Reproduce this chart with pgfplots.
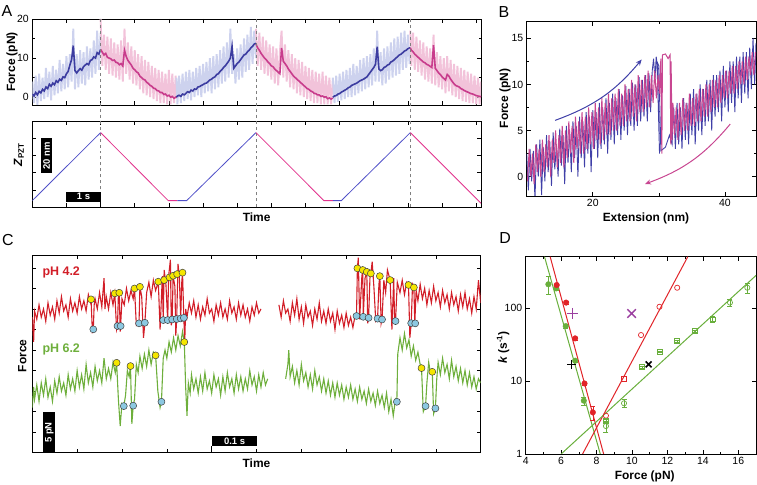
\documentclass[border=0pt]{standalone}
\usepackage{pgfplots}
\pgfplotsset{compat=1.18}
\usepackage{pgfplotstable}
\usepackage{fontspec}
\setmainfont{Liberation Sans}
\usetikzlibrary{arrows.meta}

\definecolor{dblue}{RGB}{60,60,160}
\definecolor{lblue}{RGB}{205,210,238}
\definecolor{dmag}{RGB}{200,60,140}
\definecolor{lmag}{RGB}{242,195,218}
\definecolor{zblue}{RGB}{80,80,200}
\definecolor{zmag}{RGB}{225,50,140}
\definecolor{bblue}{RGB}{64,64,168}
\definecolor{bmag}{RGB}{200,70,145}
\definecolor{cred}{RGB}{210,30,40}
\definecolor{cgreen}{RGB}{110,175,60}
\definecolor{cyel}{RGB}{245,230,0}
\definecolor{ccyan}{RGB}{140,200,225}
\definecolor{dred}{RGB}{225,35,40}
\definecolor{dgreen}{RGB}{105,175,60}
\definecolor{dpurp}{RGB}{155,63,160}

\pgfplotsset{
 base/.style={scale only axis, anchor=south west,
  axis line style={line width=0.8bp}, tick style={black, line width=0.6bp},
  major tick length=4bp, minor tick length=2.5bp, tick align=inside,
  /pgf/number format/assume math mode=true,
  ticklabel style={font=\fontsize{10.5}{12}\selectfont},
  label style={font=\fontsize{12}{14}\selectfont\bfseries}},
}

\begin{document}

% ---------------- Panel A force data: t  light  dark ----------------
\pgfplotstableread{
t L D
0.00 4.0 0.8
0.05 -1.5 0.3
0.10 5.5 1.2
0.15 -2.0 0.6
0.20 6.0 1.5
0.25 -1.0 1.1
0.30 5.0 2.0
0.35 -0.5 1.6
0.40 7.5 2.6
0.45 0.0 2.2
0.50 6.5 3.3
0.55 -0.8 2.8
0.60 8.0 3.6
0.65 0.5 3.2
0.70 7.0 4.2
0.75 1.0 3.8
0.80 9.5 4.6
0.85 1.5 4.3
0.90 8.5 5.2
0.95 2.0 5.0
1.00 10.5 6.0
1.05 2.5 6.6
1.10 11.0 8.2
1.15 4.0 9.6
1.20 17.5 13.2
1.25 2.0 6.8
1.30 11.0 6.2
1.35 2.5 6.8
1.40 12.0 7.3
1.45 3.5 6.9
1.50 11.5 7.8
1.55 3.0 8.2
1.60 13.0 8.6
1.65 4.5 8.3
1.70 12.5 9.4
1.75 5.0 9.6
1.80 14.5 10.3
1.85 6.0 10.0
1.90 17.0 11.4
1.95 7.0 11.0
2.00 16.5 12.2
}\segA
\pgfplotstableread{
t L D
2.00 20.0 12.2
2.05 8.0 11.5
2.10 16.0 10.8
2.15 7.0 11.2
2.20 15.5 10.2
2.25 6.0 10.0
2.30 15.0 9.8
2.35 5.5 9.4
2.40 14.0 9.5
2.45 5.0 8.9
2.50 13.5 8.8
2.55 4.5 8.3
2.60 14.5 8.6
2.65 4.0 8.0
2.70 17.5 12.0
2.75 6.0 10.4
2.80 14.0 9.4
2.85 4.5 8.8
2.90 13.0 8.2
2.95 3.5 7.4
3.00 12.0 7.0
3.05 3.0 6.5
3.10 11.0 6.2
3.15 2.0 5.4
3.20 10.5 5.0
3.25 1.0 4.6
3.30 9.5 4.4
3.35 0.5 3.8
3.40 9.0 3.5
3.45 0.0 3.0
3.50 8.0 2.8
3.55 -0.5 2.3
3.60 7.5 2.2
3.65 -1.0 1.7
3.70 7.0 1.6
3.75 -1.5 1.2
3.80 6.5 1.2
3.85 -1.5 0.7
3.90 6.0 0.8
3.95 -1.8 0.3
4.00 7.0 0.5
4.05 -1.8 0.0
4.10 6.0 0.2
4.15 -1.5 -0.3
4.20 5.5 0.0
4.22 0.0 -0.2
}\segB
\pgfplotstableread{
t L D
4.22 5.0 0.0
4.25 -1.8 0.3
4.30 5.5 0.5
4.35 -1.5 0.2
4.40 6.0 0.8
4.45 -1.0 0.6
4.50 6.5 1.0
4.55 -0.5 1.4
4.60 7.0 1.2
4.65 -0.8 1.8
4.70 6.5 1.6
4.75 0.0 2.1
4.80 7.5 2.0
4.85 0.5 2.6
4.90 8.0 2.7
4.95 0.0 3.0
5.00 8.5 3.2
5.05 1.0 3.5
5.10 9.0 3.6
5.15 1.5 4.0
5.20 10.0 4.4
5.25 1.0 4.6
5.30 10.5 5.0
5.35 2.0 5.2
5.40 11.0 5.8
5.45 2.5 6.0
5.50 12.0 6.6
5.55 3.5 7.0
5.60 13.0 7.6
5.65 4.0 8.0
5.70 14.0 8.6
5.75 5.0 9.2
5.80 17.5 10.0
5.85 6.0 13.0
5.90 11.0 7.4
5.95 3.5 8.0
6.00 12.5 8.6
6.05 4.5 9.0
6.10 13.5 9.6
6.15 5.0 10.2
6.20 15.0 10.8
6.25 6.5 11.0
6.30 16.0 11.6
6.35 7.0 12.0
6.40 18.0 12.6
6.45 8.5 13.0
6.50 17.0 13.6
6.55 10.0 13.8
}\segC
\pgfplotstableread{
t L D
6.55 17.5 13.6
6.60 8.0 12.6
6.65 16.5 12.0
6.70 7.0 11.2
6.75 15.5 10.6
6.80 6.0 10.0
6.85 14.5 9.6
6.90 5.5 9.0
6.95 13.5 8.6
7.00 4.5 8.0
7.05 13.0 7.8
7.10 3.5 7.2
7.15 12.5 6.8
7.20 3.0 6.4
7.25 11.5 6.0
7.30 17.0 12.6
7.35 5.0 9.2
7.40 13.5 8.6
7.45 4.0 8.0
7.50 12.0 7.2
7.55 2.5 6.6
7.60 11.0 6.0
7.65 2.0 5.4
7.70 10.0 5.0
7.75 1.0 4.6
7.80 9.5 4.2
7.85 0.5 3.8
7.90 9.0 3.4
7.95 0.0 3.0
8.00 8.0 2.6
8.05 -0.5 2.2
8.10 7.5 2.0
8.15 -1.0 1.6
8.20 7.0 1.4
8.25 -1.5 1.0
8.30 6.5 0.9
8.35 -1.5 0.6
8.40 6.0 0.6
8.45 -1.8 0.2
8.50 6.5 0.3
8.55 -1.8 0.0
8.60 5.5 0.1
8.65 -1.8 -0.4
8.70 5.0 -0.2
8.75 -1.8 -0.5
8.80 4.5 -0.2
}\segD
\pgfplotstableread{
t L D
8.80 5.0 0.0
8.85 -1.5 0.3
8.90 5.5 0.4
8.95 -1.2 0.8
9.00 6.0 0.9
9.05 -0.8 1.3
9.10 6.5 1.5
9.15 -0.5 1.8
9.20 7.0 2.0
9.25 0.0 2.4
9.30 7.5 2.6
9.35 0.0 3.0
9.40 8.5 3.2
9.45 0.5 3.4
9.50 8.0 3.6
9.55 1.0 3.9
9.60 9.5 4.2
9.65 1.5 4.4
9.70 10.0 4.6
9.75 2.0 4.9
9.80 10.5 5.2
9.85 2.5 5.8
9.90 11.0 6.4
9.95 3.0 7.0
10.00 12.5 7.6
10.05 4.0 8.4
10.10 17.0 12.9
10.15 4.0 7.2
10.20 11.5 6.8
10.25 3.0 7.0
10.30 12.5 7.6
10.35 3.5 7.8
10.40 13.0 8.2
10.45 4.5 8.4
10.50 14.0 9.0
10.55 5.0 9.2
10.60 15.0 9.6
10.65 5.5 10.0
10.70 15.5 10.4
10.75 6.0 10.8
10.80 16.5 11.0
10.85 7.0 11.4
10.90 17.0 11.8
10.95 7.5 12.0
11.00 16.0 12.4
11.05 8.5 12.6
11.07 12.0 12.6
}\segE
\pgfplotstableread{
t L D
11.07 17.0 12.6
11.10 8.0 12.0
11.15 16.5 11.6
11.20 7.0 11.0
11.25 15.5 10.6
11.30 6.5 10.2
11.35 14.5 9.8
11.40 5.5 9.4
11.45 14.0 9.0
11.50 4.5 8.8
11.55 13.0 8.4
11.60 4.0 8.2
11.65 12.5 7.9
11.70 3.5 7.6
11.75 16.0 13.3
11.80 3.0 7.4
11.85 11.5 6.8
11.90 2.5 6.2
11.95 10.5 5.8
12.00 2.0 5.2
12.05 10.0 4.8
12.10 1.0 4.4
12.15 10.5 5.8
12.20 1.5 5.4
12.25 9.5 4.6
12.30 0.5 4.0
12.35 8.5 3.4
12.40 0.0 3.0
12.45 8.0 2.8
12.50 -0.5 2.6
12.55 7.5 2.2
12.60 -1.0 2.0
12.65 7.0 1.7
12.70 -1.2 1.5
12.75 6.5 1.3
12.80 -1.5 1.1
12.85 6.0 0.9
12.90 -1.5 0.8
12.95 5.5 0.6
13.00 -1.8 0.4
13.05 5.0 0.3
13.10 -1.8 0.2
13.14 4.0 0.1
}\segF

\begin{tikzpicture}
\path[use as bounding box] (0,0) rectangle (757bp,485bp);

% ================= Panel A (top) =================
\begin{axis}[base, at={(32.3bp,380bp)}, width=448.7bp, height=86bp,
  xmin=0, xmax=13.14, ymin=-2, ymax=20,
  xtick={1,...,13}, xticklabels={},
  ytick={0,10,20}, minor ytick={5,15},
  ylabel={Force (pN)},
  ylabel style={at={(axis description cs:-0.045,0.5)}, anchor=center},
  clip mode=individual]
\addplot[lblue, line width=1.9bp] table[x=t,y=L] {\segA};
\addplot[lmag, line width=1.9bp] table[x=t,y=L] {\segB};
\addplot[lblue, line width=1.9bp] table[x=t,y=L] {\segC};
\addplot[lmag, line width=1.9bp] table[x=t,y=L] {\segD};
\addplot[lblue, line width=1.9bp] table[x=t,y=L] {\segE};
\addplot[lmag, line width=1.9bp] table[x=t,y=L] {\segF};
\addplot[dblue, line width=1.6bp] table[x=t,y=D] {\segA};
\addplot[dmag, line width=1.6bp] table[x=t,y=D] {\segB};
\addplot[dblue, line width=1.6bp] table[x=t,y=D] {\segC};
\addplot[dmag, line width=1.6bp] table[x=t,y=D] {\segD};
\addplot[dblue, line width=1.6bp] table[x=t,y=D] {\segE};
\addplot[dmag, line width=1.6bp] table[x=t,y=D] {\segF};
\draw[gray, dashed, line width=0.5bp] (axis cs:2.0,20) -- (axis cs:2.0,-6.3);
\draw[gray, dashed, line width=0.5bp] (axis cs:6.55,20) -- (axis cs:6.55,-6.3);
\draw[gray, dashed, line width=0.5bp] (axis cs:11.07,20) -- (axis cs:11.07,-6.3);
\end{axis}

% ================= Panel A (bottom) =================
\begin{axis}[base, at={(32.3bp,277.7bp)}, width=448.7bp, height=86.3bp,
  xmin=0, xmax=13.14, ymin=0, ymax=49.8,
  xtick={1,...,13}, xticklabels={},
  ytick={10,20,30,40}, yticklabels={},
  xlabel={Time},
  xlabel style={at={(axis description cs:0.5,-0.11)}, anchor=center},
  ylabel={\textit{Z}\textsubscript{PZT}},
  ylabel style={at={(axis description cs:-0.03,0.61)}, anchor=center}]
\draw[gray, dashed, line width=0.5bp] (axis cs:2.0,0) -- (axis cs:2.0,49.8);
\draw[gray, dashed, line width=0.5bp] (axis cs:6.55,0) -- (axis cs:6.55,49.8);
\draw[gray, dashed, line width=0.5bp] (axis cs:11.07,0) -- (axis cs:11.07,49.8);
\addplot[zblue, line width=0.8bp] coordinates {(0,3.85) (2.0,43.1)};
\addplot[zmag, line width=0.8bp] coordinates {(2.0,43.1) (3.98,3.85) (4.25,3.85)};
\addplot[zblue, line width=0.8bp] coordinates {(4.25,3.85) (4.52,3.85) (6.55,43.1)};
\addplot[zmag, line width=0.8bp] coordinates {(6.55,43.1) (8.54,3.85) (8.8,3.85)};
\addplot[zblue, line width=0.8bp] coordinates {(8.8,3.85) (9.05,3.85) (11.07,43.1)};
\addplot[zmag, line width=0.8bp] coordinates {(11.07,43.1) (13.14,2.3)};
\fill[black] (axis cs:1.0,3.3) rectangle (axis cs:2.0,9.0);
\draw[black, line width=0.6bp] (axis cs:2.0,0) -- (axis cs:2.0,3.3);
\node[white, font=\fontsize{9.5}{11}\selectfont\bfseries] at (axis cs:1.5,6.15) {1 s};
\fill[black] (axis cs:0.25,19.6) rectangle (axis cs:0.59,39.8);
\node[white, rotate=90, font=\fontsize{9.5}{11}\selectfont\bfseries] at (axis cs:0.42,29.7) {20 nm};
\end{axis}

% ================= Panel B =================
\begin{axis}[base, at={(526.7bp,289bp)}, width=229.3bp, height=174.3bp,
  xmin=10, xmax=44.7, ymin=-2.1, ymax=16.8,
  xtick={20,40}, minor xtick={30},
  ytick={0,5,10,15}, minor ytick={2.5,7.5,12.5},
  xlabel={Extension (nm)},
  xlabel style={at={(axis description cs:0.52,-0.126)}, anchor=center},
  ylabel={Force (pN)},
  ylabel style={at={(axis description cs:-0.095,0.56)}, anchor=center}]
\addplot[bblue, line width=0.9bp] coordinates {
(10.00,2.5)(10.25,-1.5)(10.50,3.0)(10.75,-0.5)(11.00,2.8)(11.25,-2.5)(11.50,3.5)(11.75,0.0)
(12.00,4.0)(12.25,-2.0)(12.50,3.2)(12.75,-0.5)(13.00,4.5)(13.25,0.5)(13.50,3.8)(13.75,-1.0)
(14.00,4.8)(14.25,0.8)(14.50,3.5)(14.75,0.0)(15.00,5.2)(15.25,1.2)(15.50,4.5)(15.75,-0.8)
(16.00,5.5)(16.25,1.5)(16.50,5.0)(16.75,0.5)(17.00,6.0)(17.25,2.0)(17.50,5.5)(17.75,0.0)
(18.00,6.5)(18.25,2.0)(18.50,6.0)(18.75,1.0)(19.00,7.0)(19.25,2.5)(19.50,6.5)(19.75,0.5)
(20.00,7.2)(20.25,3.0)(20.50,7.0)(20.75,2.0)(21.00,8.0)(21.25,3.0)(21.50,7.5)(21.75,3.5)
(22.00,8.5)(22.25,2.5)(22.50,8.0)(22.75,4.0)(23.00,9.0)(23.25,3.5)(23.50,8.5)(23.75,4.5)
(24.00,9.5)(24.25,4.0)(24.50,8.8)(24.75,5.0)(25.00,9.8)(25.25,4.5)(25.50,9.5)(25.75,5.5)
(26.00,10.2)(26.25,5.0)(26.50,10.0)(26.75,5.5)(27.00,10.8)(27.25,6.0)(27.50,10.5)(27.75,6.5)
(28.00,11.0)(28.25,6.0)(28.50,11.2)(28.75,7.0)(29.00,11.5)
(29.2,12.8)(29.4,10.5)(29.6,13.0)(29.8,11.8)(30.1,2.5)(29.9,8.0)(29.7,12.5)(30.0,12.0)(30.3,2.8)
(31.0,3.2)(31.6,4.5)
(32.00,3.5)(32.25,7.5)(32.50,3.0)(32.75,8.0)(33.00,3.5)(33.25,7.5)(33.50,3.0)(33.75,8.5)
(34.00,4.0)(34.25,8.0)(34.50,3.5)(34.75,9.0)(35.00,4.5)(35.25,9.5)(35.50,3.5)(35.75,9.0)
(36.00,5.0)(36.25,10.0)(36.50,4.5)(36.75,9.5)(37.00,5.5)(37.25,10.5)(37.50,6.0)(37.75,10.5)
(38.00,5.0)(38.25,11.0)(38.50,6.5)(38.75,11.0)(39.00,7.0)(39.25,11.5)(39.50,6.0)(39.75,12.0)
(40.00,7.5)(40.25,11.5)(40.50,7.0)(40.75,12.5)(41.00,8.0)(41.25,12.5)(41.50,7.0)(41.75,13.0)
(42.00,8.5)(42.25,13.0)(42.50,8.0)(42.75,13.5)(43.00,9.0)(43.25,13.5)(43.50,8.5)(43.75,14.0)
(44.00,9.5)(44.25,15.0)(44.50,10.0)(44.70,14.5)};
\addplot[bmag, line width=1.0bp] coordinates {
(10.125,-0.5)(10.375,3.0)(10.625,0.0)(10.875,2.5)(11.125,-0.8)(11.375,3.5)(11.625,0.5)(11.875,3.0)
(12.125,0.0)(12.375,4.0)(12.625,0.5)(12.875,3.5)(13.125,1.0)(13.375,4.5)(13.625,0.0)(13.875,4.0)
(14.125,1.5)(14.375,5.0)(14.625,1.0)(14.875,4.5)(15.125,1.5)(15.375,5.5)(15.625,1.0)(15.875,5.0)
(16.125,2.0)(16.375,6.0)(16.625,2.5)(16.875,5.5)(17.125,1.5)(17.375,6.5)(17.625,3.0)(17.875,6.0)
(18.125,2.5)(18.375,7.0)(18.625,2.5)(18.875,6.5)(19.125,3.0)(19.375,7.5)(19.625,3.5)(19.875,7.0)
(20.125,3.0)(20.375,8.0)(20.625,4.0)(20.875,7.5)(21.125,3.5)(21.375,8.5)(21.625,4.0)(21.875,8.0)
(22.125,4.5)(22.375,9.0)(22.625,4.5)(22.875,8.5)(23.125,5.0)(23.375,9.0)(23.625,5.0)(23.875,9.5)
(24.125,5.5)(24.375,9.0)(24.625,5.5)(24.875,10.0)(25.125,6.0)(25.375,9.5)(25.625,6.0)(25.875,10.5)
(26.125,6.5)(26.375,10.0)(26.625,6.0)(26.875,11.0)(27.125,7.0)(27.375,10.5)(27.625,7.0)(27.875,11.0)
(28.125,7.5)(28.375,11.5)(28.625,7.5)(28.875,11.0)(29.125,8.0)(29.375,11.5)(29.625,8.5)(29.875,11.0)
(30.1,9.0)(30.3,12.8)(30.45,2.5)(30.55,13.2)(31.0,13.3)(31.4,12.8)(31.7,13.2)(31.8,3.5)(31.85,12.5)(32.0,4.0)
(32.125,8.0)(32.375,4.5)(32.625,7.5)(32.875,4.0)(33.125,8.0)(33.375,4.5)(33.625,8.5)(33.875,5.0)
(34.125,8.0)(34.375,5.0)(34.625,9.0)(34.875,5.5)(35.125,8.5)(35.375,5.5)(35.625,9.0)(35.875,6.0)
(36.125,9.5)(36.375,6.0)(36.625,9.5)(36.875,6.5)(37.125,10.0)(37.375,6.5)(37.625,10.0)(37.875,7.0)
(38.125,10.5)(38.375,7.5)(38.625,10.5)(38.875,7.5)(39.125,11.0)(39.375,8.0)(39.625,11.0)(39.875,8.5)
(40.125,11.5)(40.375,8.5)(40.625,11.5)(40.875,9.0)(41.125,12.0)(41.375,9.0)(41.625,12.0)(41.875,9.5)
(42.125,12.5)(42.375,10.0)(42.625,12.5)(42.875,10.0)(43.125,13.0)(43.375,10.5)(43.625,13.0)(43.875,11.0)
(44.125,13.5)(44.375,11.0)(44.625,13.5)};
\draw[bblue, line width=1bp, -{Stealth[length=6bp,width=5bp]}] (axis cs:14.3,6.1) to[bend right=15] (axis cs:27.4,12.7);
\draw[bmag, line width=1bp, -{Stealth[length=6bp,width=5bp]}] (axis cs:40.8,5.7) to[bend left=15] (axis cs:27.9,-0.8);
\end{axis}

% ================= Panel C =================
\begin{axis}[base, at={(32.3bp,32.3bp)}, width=448.4bp, height=197.7bp,
  xmin=0, xmax=10, ymin=0, ymax=9.63,
  xtick={1,...,9}, xticklabels={}, ytick={1,...,9}, yticklabels={},
  xlabel={Time},
  xlabel style={at={(axis description cs:0.5,-0.052)}, anchor=center},
  ylabel={Force},
  ylabel style={at={(axis description cs:-0.022,0.49)}, anchor=center}]
\addplot[cred, line width=1.1bp] coordinates {
(0.00,6.6)(0.03,5.4)(0.05,6.9)(0.10,6.5)(0.15,7.2)(0.20,6.6)(0.25,7.0)(0.30,6.4)(0.35,7.3)(0.40,6.7)
(0.45,7.1)(0.50,6.5)(0.55,7.4)(0.60,6.8)(0.65,7.6)(0.70,6.9)(0.75,7.2)(0.80,6.6)(0.85,7.5)(0.90,6.9)
(0.95,7.3)(1.00,6.8)(1.05,7.6)(1.10,7.0)(1.15,7.4)(1.20,6.9)(1.25,7.7)(1.30,7.3)(1.31,7.47)(1.34,5.9)
(1.36,6.0)(1.38,7.2)(1.40,7.5)(1.45,7.0)(1.50,7.8)(1.55,7.1)(1.60,8.5)(1.62,7.0)(1.65,7.6)(1.70,7.0)
(1.75,7.8)(1.80,7.2)(1.84,7.76)(1.88,6.0)(1.90,6.17)(1.92,7.7)(1.94,7.8)(1.96,5.9)(1.97,6.2)(2.00,7.5)
(2.05,7.2)(2.10,8.0)(2.15,7.4)(2.20,7.9)(2.25,7.5)(2.28,8.0)(2.32,6.2)(2.38,6.3)(2.40,8.1)(2.44,7.6)
(2.48,5.6)(2.51,6.3)(2.55,7.8)(2.60,8.3)(2.65,7.6)(2.70,8.4)(2.75,7.9)(2.81,8.33)(2.85,6.0)(2.90,8.6)
(2.92,6.4)(2.94,8.9)(2.98,8.2)(3.02,6.4)(3.04,8.6)(3.08,9.4)(3.10,6.2)(3.12,6.5)(3.14,8.6)(3.18,8.1)
(3.20,5.7)(3.22,6.5)(3.25,9.2)(3.28,8.5)(3.31,6.5)(3.33,8.2)(3.35,8.77)(3.38,6.5)(3.40,5.4)(3.42,7.0)
(3.45,6.6)(3.50,7.3)(3.55,6.8)(3.60,7.4)(3.65,6.6)(3.70,7.2)(3.75,6.5)(3.80,7.1)(3.85,6.7)(3.90,7.5)
(3.95,6.8)(4.00,7.0)(4.05,6.4)(4.10,7.2)(4.15,6.7)(4.20,7.3)(4.25,6.6)(4.30,7.0)(4.35,6.5)(4.40,7.4)
(4.45,6.8)(4.50,7.1)(4.55,6.5)(4.60,7.3)(4.65,6.7)(4.70,7.2)(4.75,6.6)(4.80,7.0)(4.85,6.4)(4.90,7.1)
(4.95,6.7)(5.00,7.3)(5.05,6.8)(5.10,7.0)};
\addplot[cred, line width=1.1bp] coordinates {
(5.50,7.2)(5.55,6.6)(5.60,7.4)(5.65,6.8)(5.70,7.0)(5.75,6.4)(5.80,7.3)(5.85,6.7)(5.90,7.5)(5.95,6.5)
(6.00,7.1)(6.05,6.3)(6.10,7.2)(6.15,6.6)(6.20,6.9)(6.25,6.2)(6.30,7.0)(6.35,6.5)(6.40,7.3)(6.45,6.4)
(6.50,6.9)(6.55,6.3)(6.60,7.0)(6.65,6.4)(6.70,6.8)(6.75,6.0)(6.80,6.9)(6.85,6.3)(6.90,6.7)(6.95,6.1)
(7.00,6.8)(7.05,6.2)(7.10,6.6)(7.15,6.1)(7.20,6.7)(7.23,6.66)(7.25,8.98)(7.27,9.5)(7.30,6.5)(7.35,8.6)
(7.37,8.9)(7.38,6.6)(7.42,8.5)(7.46,8.81)(7.48,6.3)(7.50,6.57)(7.53,8.5)(7.55,8.73)(7.58,9.3)(7.62,8.0)
(7.66,6.4)(7.70,6.53)(7.73,8.2)(7.75,8.6)(7.78,6.3)(7.80,6.49)(7.84,8.4)(7.88,7.8)(7.92,8.9)(7.98,8.41)
(8.02,6.0)(8.06,8.5)(8.08,6.4)(8.10,6.41)(8.14,8.3)(8.20,7.8)(8.25,8.4)(8.30,7.7)(8.35,8.3)(8.39,8.17)
(8.42,5.6)(8.45,6.31)(8.48,8.2)(8.51,8.05)(8.53,6.3)(8.56,7.9)(8.60,7.4)(8.65,8.2)(8.70,7.5)(8.75,8.0)
(8.80,7.2)(8.85,7.9)(8.90,7.3)(8.95,8.1)(9.00,7.4)(9.05,7.8)(9.10,7.1)(9.15,7.9)(9.20,7.3)(9.25,7.7)
(9.30,7.0)(9.35,7.8)(9.40,7.2)(9.45,7.6)(9.50,6.9)(9.55,7.7)(9.60,7.1)(9.65,7.8)(9.70,7.0)(9.75,7.5)
(9.80,6.8)(9.85,7.6)(9.90,7.0)(9.95,8.4)(10.00,7.3)};
\addplot[cgreen, line width=1.1bp] coordinates {
(0.00,2.2)(0.03,3.2)(0.05,2.6)(0.10,3.3)(0.15,2.5)(0.20,3.4)(0.25,2.8)(0.30,3.6)(0.35,2.7)(0.40,3.2)
(0.45,2.5)(0.50,3.5)(0.55,2.9)(0.60,3.7)(0.65,3.0)(0.70,3.4)(0.75,2.8)(0.80,3.8)(0.85,3.1)(0.90,3.6)
(0.95,3.0)(1.00,4.0)(1.05,3.2)(1.10,3.8)(1.15,3.1)(1.20,4.3)(1.25,3.4)(1.30,3.9)(1.35,3.2)(1.40,4.2)
(1.45,3.5)(1.50,4.0)(1.55,3.4)(1.60,4.6)(1.65,3.6)(1.70,4.1)(1.75,3.6)(1.80,4.4)(1.85,3.9)(1.88,4.38)
(1.92,2.6)(1.96,1.3)(2.00,2.4)(2.04,2.27)(2.08,2.8)(2.12,4.0)(2.16,3.7)(2.19,4.22)(2.22,1.4)(2.25,2.29)
(2.28,2.6)(2.32,4.3)(2.36,3.9)(2.40,4.7)(2.45,4.1)(2.50,4.8)(2.55,4.2)(2.60,5.0)(2.65,4.3)(2.70,4.9)
(2.75,4.74)(2.80,3.0)(2.85,2.2)(2.88,2.48)(2.92,4.6)(2.96,5.0)(3.00,4.6)(3.05,5.4)(3.10,4.9)(3.15,5.6)
(3.20,5.0)(3.25,5.7)(3.30,5.2)(3.35,5.9)(3.39,5.39)(3.42,3.2)(3.45,1.8)(3.48,3.4)(3.52,2.9)(3.55,3.8)
(3.60,3.1)(3.65,3.6)(3.70,2.9)(3.75,3.7)(3.80,3.0)(3.85,3.9)(3.90,3.1)(3.95,3.5)(4.00,2.9)(4.05,3.8)
(4.10,3.2)(4.15,3.6)(4.20,2.8)(4.25,3.7)(4.30,3.0)(4.35,3.9)(4.40,3.2)(4.45,3.6)(4.50,2.9)(4.55,3.8)
(4.60,3.1)(4.65,3.7)(4.70,3.0)(4.75,3.6)(4.80,3.1)(4.85,4.0)(4.90,3.3)(4.95,3.7)(5.00,3.0)(5.05,3.8)
(5.10,3.2)(5.15,3.9)(5.20,3.3)(5.25,3.6)};
\addplot[cgreen, line width=1.1bp] coordinates {
(5.65,3.6)(5.70,4.3)(5.72,5.0)(5.75,3.7)(5.80,4.2)(5.85,3.4)(5.90,4.0)(5.95,3.3)(6.00,4.3)(6.05,3.5)
(6.10,3.9)(6.15,3.2)(6.20,3.8)(6.25,3.1)(6.30,4.0)(6.35,3.3)(6.40,3.7)(6.45,3.0)(6.50,3.6)(6.55,2.9)
(6.60,3.5)(6.65,2.8)(6.70,3.4)(6.75,2.7)(6.80,3.4)(6.85,2.8)(6.90,3.3)(6.95,2.6)(7.00,3.2)(7.05,2.7)
(7.10,3.3)(7.15,2.6)(7.20,3.1)(7.25,2.5)(7.30,3.2)(7.35,2.6)(7.40,3.0)(7.45,2.4)(7.50,3.1)(7.55,2.5)
(7.60,2.9)(7.65,2.3)(7.70,3.0)(7.75,2.4)(7.80,2.8)(7.85,2.2)(7.90,2.9)(7.95,2.0)(8.00,2.6)(8.05,1.8)
(8.10,2.6)(8.13,2.48)(8.15,4.8)(8.20,5.6)(8.25,5.0)(8.30,5.8)(8.35,5.1)(8.40,5.5)(8.45,4.7)(8.50,5.2)
(8.55,4.5)(8.60,4.9)(8.65,4.3)(8.68,4.12)(8.72,2.0)(8.77,2.27)(8.80,3.4)(8.84,4.4)(8.88,3.9)(8.92,3.94)
(8.95,1.9)(8.99,2.16)(9.02,3.6)(9.05,4.4)(9.10,3.8)(9.15,4.6)(9.20,3.9)(9.25,4.3)(9.30,3.6)(9.35,4.5)
(9.40,3.7)(9.45,4.2)(9.50,3.5)(9.55,4.1)(9.60,3.4)(9.65,4.0)(9.70,3.3)(9.75,3.9)(9.80,3.2)(9.85,3.7)
(9.90,3.1)(9.95,3.6)(10.00,3.4)};
\addplot[only marks, mark=*, mark size=3.5bp, mark options={fill=cyel, draw=black!75, line width=0.5bp}] coordinates {
(1.31,7.47)(1.84,7.76)(1.94,7.79)(2.28,8.0)(2.40,8.08)(2.81,8.33)(2.94,8.41)(3.06,8.54)(3.14,8.62)(3.23,8.70)(3.35,8.77)
(7.25,8.98)(7.37,8.90)(7.46,8.81)(7.55,8.73)(7.75,8.60)(7.98,8.41)(8.39,8.17)(8.51,8.05)
(1.88,4.38)(2.19,4.22)(2.75,4.74)(3.39,5.39)(8.68,4.12)(8.92,3.94)};
\addplot[only marks, mark=*, mark size=3.5bp, mark options={fill=ccyan, draw=black!75, line width=0.5bp}] coordinates {
(1.36,6.01)(1.90,6.17)(1.97,6.17)(2.38,6.30)(2.51,6.33)(2.92,6.46)(3.02,6.46)(3.12,6.49)(3.22,6.51)(3.31,6.54)(3.38,6.57)
(7.23,6.66)(7.38,6.62)(7.50,6.57)(7.70,6.53)(7.80,6.49)(8.10,6.41)(8.45,6.31)(8.54,6.30)
(2.04,2.27)(2.25,2.29)(2.88,2.48)(8.13,2.48)(8.77,2.27)(8.99,2.16)};
\node[cred, anchor=west, font=\fontsize{12.5}{14}\selectfont\bfseries] at (axis cs:0.15,8.8) {pH 4.2};
\node[cgreen, anchor=west, font=\fontsize{12.5}{14}\selectfont\bfseries] at (axis cs:0.15,5.05) {pH 6.2};
\fill[black] (axis cs:0.245,0) rectangle (axis cs:0.51,1.96);
\node[white, rotate=90, font=\fontsize{9.5}{11}\selectfont\bfseries] at (axis cs:0.38,0.98) {5 pN};
\fill[black] (axis cs:4.0,0.32) rectangle (axis cs:5.02,0.83);
\draw[black, line width=0.6bp] (axis cs:4.0,0) -- (axis cs:4.0,0.32);
\node[white, font=\fontsize{9.5}{11}\selectfont\bfseries] at (axis cs:4.51,0.575) {0.1 s};
\end{axis}

% ================= Panel D =================
\begin{axis}[base, at={(525.7bp,31bp)}, width=230.3bp, height=197.3bp,
  ymode=log, xmin=4, xmax=17, ymin=1, ymax=512,
  xtick={4,6,...,16}, minor xtick={5,7,...,17},
  ytick={1,10,100}, yticklabels={1,10,100}, yminorticks=false,
  xlabel={Force (pN)},
  xlabel style={at={(axis description cs:0.517,-0.115)}, anchor=center},
  ylabel={\textit{k} (s\textsuperscript{-1})},
  ylabel style={at={(axis description cs:-0.098,0.54)}, anchor=center}]
\addplot[dgreen, line width=1bp] coordinates {(5.06,512) (8.21,1)};
\addplot[dred, line width=1bp] coordinates {(5.38,512) (8.40,1)};
\addplot[dred, line width=1bp] coordinates {(7.21,1) (13.15,512)};
\addplot[dgreen, line width=1bp] coordinates {(6.0,1) (17.0,283)};
\addplot[only marks, mark=*, mark size=2.8bp, color=dgreen,
  error bars/.cd, y dir=both, y explicit, error mark options={rotate=90, mark size=2.5bp}] coordinates {
(5.28,214) +- (0,60) (5.72,188) +- (0,8) (6.26,57) +- (0,3) (6.79,19.1) +- (0,1) (7.28,5.4) +- (0,0.7)};
\addplot[only marks, mark=*, mark size=2.8bp, color=dred,
  error bars/.cd, y dir=both, y explicit, error mark options={rotate=90, mark size=2.5bp}] coordinates {
(5.75,209) +- (0,8) (6.28,120) +- (0,5) (6.79,38.7) +- (0,2) (7.32,9.3) +- (0,0.5) (7.79,3.73) +- (0,0.8)};
\addplot[only marks, mark=o, mark size=2.6bp, color=dred, line width=0.7bp] coordinates {
(8.53,3.36) (10.51,43) (11.55,105) (12.55,192)};
\addplot[only marks, mark=square, mark size=2.4bp, color=dred, line width=0.7bp] coordinates {(9.53,10.8)};
\addplot[only marks, mark=o, mark size=2.6bp, color=dgreen, line width=0.7bp,
  error bars/.cd, y dir=both, y explicit, error mark options={rotate=90, mark size=2.5bp}] coordinates {
(8.53,2.42) +- (0,0.4) (9.55,4.97) +- (0,0.6) (15.53,120) +- (0,12) (16.51,192) +- (0,30)};
\addplot[only marks, mark=square, mark size=2.4bp, color=dgreen, line width=0.7bp,
  error bars/.cd, y dir=both, y explicit, error mark options={rotate=90, mark size=2.5bp}] coordinates {
(8.53,2.87) +- (0,0.1) (10.55,15.8) +- (0,0.5) (11.55,25.2) +- (0,0.5) (12.55,35.6) +- (0,1) (13.55,48.9) +- (0,2) (14.55,70.6) +- (0,7)};
\addplot[only marks, mark=+, mark size=4.2bp, black, line width=1.5bp] coordinates {(6.58,17)};
\addplot[only marks, mark=x, mark size=4.2bp, black, line width=1.5bp] coordinates {(10.94,17)};
\addplot[only marks, mark=+, mark size=5.5bp, dpurp, line width=1.5bp] coordinates {(6.64,85)};
\addplot[only marks, mark=x, mark size=6bp, dpurp, line width=1.5bp] coordinates {(9.98,85)};
\end{axis}

% panel letters
\node[font=\fontsize{16}{18}\selectfont] at (7bp,474bp) {A};
\node[font=\fontsize{16}{18}\selectfont] at (504bp,472.5bp) {B};
\node[font=\fontsize{16}{18}\selectfont] at (8bp,245bp) {C};
\node[font=\fontsize{16}{18}\selectfont] at (505bp,247bp) {D};
\end{tikzpicture}
\end{document}
